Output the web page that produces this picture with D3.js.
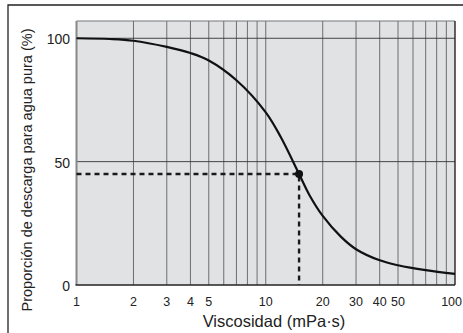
<!DOCTYPE html>
<html>
<head>
<meta charset="utf-8">
<script src="https://cdn.jsdelivr.net/npm/d3@7"></script>
<style>
  html, body { margin: 0; padding: 0; background: #fff; }
  svg { display: block; font-family: 'Liberation Sans', Arial, sans-serif; }
</style>
</head>
<body>
<svg id="chart" width="463" height="333"></svg>
<script>
// curve: viscosity (mPa·s) -> discharge ratio (%)
const viscosity = [1, 1.5, 2, 3, 4, 5, 7, 10, 12, 15, 17, 20, 25, 30, 40, 50, 70, 100];
const discharge = [100, 99.7, 99, 96.5, 94, 91, 83, 70, 60, 45, 36.5, 28, 19.5, 14.5, 10, 8, 6, 4.5];
const xTicks = [1, 2, 3, 4, 5, 10, 20, 30, 40, 50, 100];
const yTicks = [0, 50, 100];
const gridX = [2, 3, 4, 5, 6, 7, 8, 9, 10, 20, 30, 40, 50, 60, 70, 80, 90];
const gridY = [50, 100];
const marker = { x: 15, y: 45 };

const margin = { top: 21, right: 8, bottom: 48, left: 76.5 };
const width = 463, height = 333;

const svg = d3.select('#chart');

const x = d3.scaleLog()
  .domain([1, 100])
  .range([margin.left, width - margin.right]);

const y = d3.scaleLinear()
  .domain([0, 107])
  .range([height - margin.bottom, margin.top]);

// outer frame (only top and left visible)
svg.append('path')
  .attr('d', `M8,${height}V5H${width}`)
  .attr('fill', 'none')
  .attr('stroke', '#222')
  .attr('stroke-width', 1.3);

// plot background
svg.append('rect')
  .attr('x', x(1))
  .attr('y', margin.top)
  .attr('width', x(100) - x(1))
  .attr('height', y(0) - margin.top)
  .attr('fill', '#e1e2e4');

// grid
svg.append('g')
  .selectAll('line')
  .data(gridX)
  .join('line')
  .attr('x1', d => x(d)).attr('x2', d => x(d))
  .attr('y1', margin.top).attr('y2', y(0))
  .attr('stroke', '#6e6e6e')
  .attr('stroke-width', 1);

svg.append('g')
  .selectAll('line')
  .data(gridY)
  .join('line')
  .attr('x1', x(1)).attr('x2', x(100))
  .attr('y1', d => y(d)).attr('y2', d => y(d))
  .attr('stroke', '#333')
  .attr('stroke-width', 0.9);

// plot border
svg.append('line')
  .attr('x1', x(1)).attr('x2', x(100))
  .attr('y1', margin.top).attr('y2', margin.top)
  .attr('stroke', '#777').attr('stroke-width', 1.2);
svg.append('line')
  .attr('x1', x(1)).attr('x2', x(1))
  .attr('y1', margin.top).attr('y2', y(0))
  .attr('stroke', '#888').attr('stroke-width', 2);
svg.append('line')
  .attr('x1', x(100)).attr('x2', x(100))
  .attr('y1', margin.top).attr('y2', y(0))
  .attr('stroke', '#222').attr('stroke-width', 1.4);
svg.append('line')
  .attr('x1', x(1) - 1).attr('x2', x(100))
  .attr('y1', y(0)).attr('y2', y(0))
  .attr('stroke', '#222').attr('stroke-width', 1.4);

// dashed guides to the marked point
svg.append('path')
  .attr('d', `M${x(1)},${y(marker.y)}H${x(marker.x)}V${y(0)}`)
  .attr('fill', 'none')
  .attr('stroke', '#1a1a1a')
  .attr('stroke-width', 2.4)
  .attr('stroke-dasharray', '5,4');

// curve
const pts = viscosity.map((v, i) => [v, discharge[i]]);
svg.append('path')
  .datum(pts)
  .attr('d', d3.line()
    .x(d => x(d[0]))
    .y(d => y(d[1]))
    .curve(d3.curveCatmullRom.alpha(0.5)))
  .attr('fill', 'none')
  .attr('stroke', '#111')
  .attr('stroke-width', 2.2);

svg.append('circle')
  .attr('cx', x(marker.x))
  .attr('cy', y(marker.y))
  .attr('r', 4)
  .attr('fill', '#111');

// tick labels
svg.append('g')
  .attr('font-size', 12.5)
  .attr('fill', '#222')
  .selectAll('text')
  .data(xTicks)
  .join('text')
  .attr('text-anchor', (d, i) => i === xTicks.length - 1 ? 'end' : 'middle')
  .attr('x', (d, i) => i === xTicks.length - 1 ? width - 1 : x(d))
  .attr('y', 306)
  .text(d => d);

svg.append('g')
  .attr('font-size', 14)
  .attr('text-anchor', 'end')
  .attr('fill', '#222')
  .selectAll('text')
  .data(yTicks)
  .join('text')
  .attr('x', 70)
  .attr('y', d => y(d) + 6)
  .text(d => d);

// axis titles
svg.append('text')
  .attr('x', 274)
  .attr('y', 327)
  .attr('text-anchor', 'middle')
  .attr('font-size', 16.5)
  .attr('fill', '#222')
  .text('Viscosidad (mPa·s)');

svg.append('text')
  .attr('transform', 'translate(32,170) rotate(-90)')
  .attr('text-anchor', 'middle')
  .attr('font-size', 14.5)
  .attr('fill', '#222')
  .text('Proporción de descarga para agua pura (%)');
</script>
</body>
</html>
